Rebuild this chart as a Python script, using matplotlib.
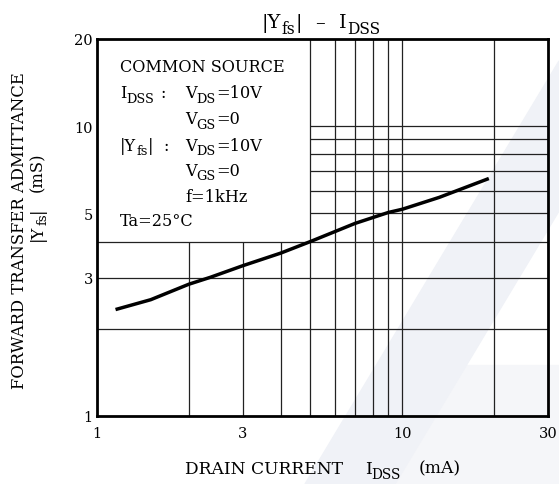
import numpy as np
import matplotlib
matplotlib.use('Agg')
import matplotlib.pyplot as plt
from matplotlib.patches import Polygon

plt.rcParams['font.family'] = ['DejaVu Serif']

# curve
idss = [1.15, 1.5, 2.0, 2.35, 3.0, 4.0, 5.0, 7.0, 9.0, 10.0, 13.2, 19.2]
yfs = [2.33, 2.52, 2.85, 3.01, 3.30, 3.65, 4.0, 4.62, 5.04, 5.17, 5.68, 6.6]

x_ticks = [1, 3, 10, 30]
y_ticks = [1, 3, 5, 10, 20]

# grid: lower-left part (under the text box) only up to y=4
grid_x_low = [2, 3, 4]
grid_x_full = [5, 6, 7, 8, 9, 10, 20]
grid_y_full = [2, 3, 4]
grid_y_right = [5, 6, 7, 8, 9, 10]

W, H = 559, 485
fig = plt.figure(figsize=(W / 100, H / 100), dpi=100)
ax = fig.add_axes([97 / W, 1 - 417 / H, 451 / W, 377 / H])
ax.set_facecolor('none')
renderer = fig.canvas.get_renderer()


def px(x, y):
    return (x / W, 1 - y / H)


def measure(s, fs):
    t = fig.text(0, 0, s, fontsize=fs)
    w = t.get_window_extent(renderer).width
    t.remove()
    return w


def rich(cx, cy, parts, size, align='left', rot=0):
    # parts: strings, '_xx' = subscript, numbers = gap in pixels
    items = []
    for p in parts:
        if isinstance(p, (int, float)):
            items.append((None, 0, p, False))
        else:
            sub = p.startswith('_')
            s = p[1:] if sub else p
            fs = size * 0.8 if sub else size
            items.append((s, fs, measure(s, fs), sub))
    total = sum(i[2] for i in items)
    em = size * 100 / 72
    base = (cx if rot else cy) + 0.73 * em / 2
    if rot:
        pos = cy + total / 2 if align == 'center' else cy
    else:
        pos = cx - total / 2 if align == 'center' else cx
    for s, fs, w, sub in items:
        if s is not None:
            off = base + (0.28 * em if sub else 0)
            if rot:
                fig.text(*px(off, pos), s, fontsize=fs, rotation=90,
                         rotation_mode='anchor', ha='left', va='baseline')
            else:
                fig.text(*px(pos, off), s, fontsize=fs, ha='left', va='baseline')
        pos = pos - w if rot else pos + w


# faint watermark in the background
fig.add_artist(Polygon([px(305, 485), px(395, 485), px(559, 212), px(559, 62)],
                       closed=True, color='#f0f2f7', zorder=-2, transform=fig.transFigure))
fig.add_artist(Polygon([px(395, 366), px(559, 366), px(559, 485), px(395, 485)],
                       closed=True, color='#f5f6f9', zorder=-3, transform=fig.transFigure))

ax.set_xscale('log')
ax.set_yscale('log')
ax.set_xlim(1, 30)
ax.set_ylim(1, 20)

gc = '#222222'
lw = 0.9
ax.vlines(grid_x_low, 1, 4, color=gc, lw=lw)
ax.vlines(grid_x_full, 1, 20, color=gc, lw=lw)
ax.hlines(grid_y_full, 1, 30, color=gc, lw=lw)
ax.hlines(grid_y_right, 5, 30, color=gc, lw=lw)

ax.plot(idss, yfs, color='black', lw=2.5, solid_capstyle='butt')

ax.set_xticks(x_ticks)
ax.set_xticklabels([str(v) for v in x_ticks])
ax.set_yticks(y_ticks)
ax.set_yticklabels([str(v) for v in y_ticks])
ax.minorticks_off()
ax.tick_params(length=0, labelsize=10.5)
ax.tick_params(axis='x', pad=7)
ax.tick_params(axis='y', pad=3)
for s in ax.spines.values():
    s.set_linewidth(2)

fs = 11.6
rich(120, 66.5, ['COMMON SOURCE'], fs)
rich(120, 92.5, ['I', '_DSS', 6, ':'], fs)
rich(185, 92.5, ['V', '_DS', '=10V'], fs)
rich(185, 118.5, ['V', '_GS', '=0'], fs)
rich(120, 145, ['|Y', '_fs', '|', 10, ':'], fs)
rich(185, 145, ['V', '_DS', '=10V'], fs)
rich(185, 170, ['V', '_GS', '=0'], fs)
rich(185, 196, ['f=1kHz'], fs)
rich(120, 220, ['Ta=25°C'], fs)

rich(321, 21, ['|Y', '_fs', '|', 14, '–', 14, 'I', '_DSS'], 14, align='center')
rich(323, 467.5, ['DRAIN CURRENT', 22, 'I', '_DSS', 18, '(mA)'], 12.3, align='center')
rich(18, 231, ['FORWARD TRANSFER ADMITTANCE'], 11.8, align='center', rot=90)
rich(36, 197, ['|Y', '_fs', '|', 16, '(mS)'], 11.8, align='center', rot=90)

fig.savefig('out.png', dpi=100)
